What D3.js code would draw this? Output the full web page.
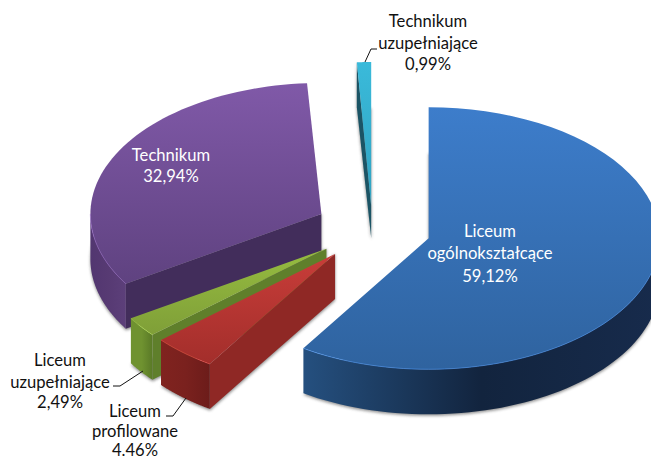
<!DOCTYPE html>
<html><head><meta charset="utf-8">
<script src="https://cdn.jsdelivr.net/npm/d3@7/dist/d3.min.js"></script>
<style>html,body{margin:0;padding:0;background:#fff;overflow:hidden}svg{display:block}text{font-family:Lato,"Open Sans",sans-serif;font-size:16.6px}</style>
</head><body>
<svg id="c" width="651" height="461"></svg>
<script>
const categories = ["Liceum ogólnokształcące","Liceum profilowane","Liceum uzupełniające","Technikum","Technikum uzupełniające"];
const values = [59.12,4.46,2.49,32.94,0.99];
const valueLabels = ["59,12%","4.46%","2,49%","32,94%","0,99%"];
const topColors = [["#3d7dcb","#2f639f"],["#c83d39","#a32e2b"],["#96bc40","#7f9f38"],["#8059a8","#5f4280"],["#3abada","#2fa2c1"]];
const rimColors = [["#25507f","#12243e","#172b4c"],["#80231f","#7a211e","#6c1c1a"],["#6f9230","#6f9230","#5a7a27"],["#523670","#573a73","#5c3f7a"],["#1a5565","#1a5565","#1a5565"]];
const edgeColors = ["#1f4470","#8f2825","#5f7f2b","#422d5b","#1b5465"];

const W=651,H=461,cx=373,cy=229,rx=231,ry=131,depth=45,explode=58;
// the thin far slice is seen with more perspective: taller face, shorter wall at its tip
const faceStretch=[1,1,1,1,1.1], tipShift=[0,0,0,0,10], tipDepth=[45,45,45,45,32];
const svg=d3.select("#c"), defs=svg.append("defs");
const blur=defs.append("filter").attr("id","sh").attr("x","-10%").attr("y","-10%").attr("width","120%").attr("height","120%");
blur.append("feGaussianBlur").attr("stdDeviation",1.6);

const pie=d3.pie().sort(null).value(d=>d)(values);
const line=d3.line();
const grad=(id,x1,y1,x2,y2,stops)=>{
  const g=defs.append("linearGradient").attr("id",id).attr("gradientUnits","userSpaceOnUse")
    .attr("x1",x1).attr("y1",y1).attr("x2",x2).attr("y2",y2);
  stops.forEach((c,i)=>g.append("stop").attr("offset",i/(stops.length-1)).attr("stop-color",c));
};
const slices=pie.map((p,i)=>{
  const mid=(p.startAngle+p.endAngle)/2;
  return {i,a0:p.startAngle,a1:p.endAngle,ry:ry*faceStretch[i],tip:tipDepth[i],
    o:[cx+explode*Math.sin(mid),cy-explode*ry/rx*Math.cos(mid)+tipShift[i]]};
});
const P=(s,a,dz=0)=>[s.o[0]+rx*Math.sin(a), s.o[1]-s.ry*Math.cos(a)+dz];
const arcPts=(s,a0,a1,dz=0)=>d3.range(0,61).map(i=>P(s,a0+(a1-a0)*i/60,dz));
// shadow layer
const shadow=svg.append("g").attr("filter","url(#sh)").attr("fill","#6b6b6b").attr("opacity",0.75);
slices.forEach(s=>{
  const top=[s.o,...arcPts(s,s.a0,s.a1)];
  const bottom=top.map((p,j)=>[p[0],p[1]+(j?depth:s.tip)+1.5]);
  shadow.append("path").attr("d",line(bottom)+"Z");
  shadow.append("path").attr("d",line([top[0],top[1],bottom[1],bottom[0]])+"Z");
});
const order=[3,4,2,1,0];
order.forEach(k=>{
  const s=slices[k],g=svg.append("g");
  const PI=Math.PI;
  const A0=Math.max(s.a0,PI/2),A1=Math.min(s.a1,PI*1.5);
  const tops=arcPts(s,s.a0,s.a1);
  if(s.a0>PI){
    const q=[s.o,tops[0],[tops[0][0],tops[0][1]+depth],[s.o[0],s.o[1]+s.tip]];
    g.append("path").attr("d",line(q)+"Z").attr("fill",edgeColors[k]);
  }
  if(A1>A0){
    const up=arcPts(s,A0,A1),dn=arcPts(s,A0,A1,depth).reverse();
    const xs=d3.extent(up,d=>d[0]);
    grad("rim"+k,xs[0],0,xs[1],0,rimColors[k]);
    g.append("path").attr("d",line(up.concat(dn))+"Z").attr("fill",`url(#rim${k})`);
  }
  const ys=d3.extent([s.o,...tops],d=>d[1]);
  grad("top"+k,0,ys[0],0,ys[1],topColors[k]);
  g.append("path").attr("d",line([s.o,...tops])+"Z").attr("fill",`url(#top${k})`);
  if(A1>A0) g.append("path").attr("d",line(arcPts(s,A0,A1))).attr("fill","none")
    .attr("stroke",d3.color(topColors[k][0]).brighter(0.5)).attr("stroke-width",1).attr("opacity",0.6);
});
const leaders=[[[365,62],[371,49],[377,49]],[[143,371],[120,386],[113,386]],[[186,398],[173,416],[166,416]]];
leaders.forEach(l=>svg.append("path").attr("d",line(l)).attr("fill","none").attr("stroke","#111").attr("stroke-width",1));
const labels=[
 {k:4,x:428,y:[27,49,70],lines:["Technikum","uzupełniające",valueLabels[4]],c:"#111"},
 {k:0,x:490,y:[237,259,282],lines:["Liceum","ogólnokształcące",valueLabels[0]],c:"#fff"},
 {k:3,x:171,y:[161,182],lines:[categories[3],valueLabels[3]],c:"#fff"},
 {k:2,x:60,y:[366,388,408],lines:["Liceum","uzupełniające",valueLabels[2]],c:"#111"},
 {k:1,x:135,y:[417,437,456],lines:["Liceum","profilowane",valueLabels[1]],c:"#111"}
];
labels.forEach(l=>{
  l.lines.forEach((t,i)=>svg.append("text").attr("x",l.x).attr("y",l.y[i]).attr("text-anchor","middle").attr("fill",l.c).text(t));
});
</script></body></html>
